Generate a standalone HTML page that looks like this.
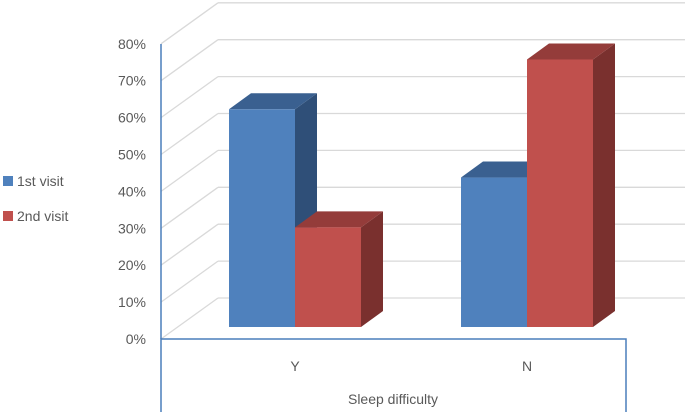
<!DOCTYPE html>
<html><head><meta charset="utf-8"><style>
html,body{margin:0;padding:0;background:#fff;}
svg{display:block;font-family:"Liberation Sans",sans-serif;}
</style></head><body>
<svg id="chart" width="685" height="412">
<g id="grid"></g>
<g id="bars"></g>
<line x1="161" y1="44" x2="161" y2="339" stroke="#4a7ebb" stroke-width="1.5"/>
<rect x="161" y="339" width="465" height="80" fill="none" stroke="#4a7ebb" stroke-width="1.5"/>
<g id="ylabels"></g>
<g id="xlabels"></g>
<text x="393" y="404" text-anchor="middle" font-size="14" fill="#595959">Sleep difficulty</text>
<g>
<g><rect x="3" y="176" width="10" height="10" fill="#4f81bd"/><text x="17" y="186" font-size="14" fill="#595959">1st visit</text></g>
<g><rect x="3" y="211" width="10" height="10" fill="#c0504d"/><text x="17" y="221" font-size="14" fill="#595959">2nd visit</text></g>
</g>
</svg>
<script>
const categories = ["Y","N"];
const series1 = [59, 40.5];
const series2 = [27, 72.5];
const ticks = [0,10,20,30,40,50,60,70,80];
const tickLabels = ["0%","10%","20%","30%","40%","50%","60%","70%","80%"];

const NS="http://www.w3.org/2000/svg";
const unit=36.9/10;
function yFront(v){return 339 - v*unit;}
function yBack(v){return 298 - v*unit;}
function yBar(v){return 327 - v*unit;}
function mk(tag,attrs,parent){const e=document.createElementNS(NS,tag);for(const k in attrs)e.setAttribute(k,attrs[k]);parent.appendChild(e);return e;}
const grid=document.getElementById('grid');
ticks.forEach((t,i)=>{
  const l1=mk('line',{x1:161,y1:yFront(t),x2:218,y2:yBack(t),stroke:'#d9d9d9','stroke-width':1.3},grid);
  
  
  const l2=mk('line',{x1:218,y1:yBack(t),x2:685,y2:yBack(t),stroke:'#d9d9d9','stroke-width':1.3},grid);
  
  
  const tx=mk('text',{x:146,y:yFront(t)+5,'text-anchor':'end','font-size':14,fill:'#595959'},document.getElementById('ylabels'));
  tx.textContent=tickLabels[i];
  
  
});
const bars=document.getElementById('bars');
const catX=[229,461], bw=66, dx=22, dy=16;
function bar(x,v,front,top,side,name){
  const y=yBar(v), b=327;
  const g=mk('g',{},bars);
  
  
  mk('polygon',{points:`${x+bw},${y} ${x+bw+dx},${y-dy} ${x+bw+dx},${b-dy} ${x+bw},${b}`,fill:side},g);
  mk('polygon',{points:`${x},${y} ${x+dx},${y-dy} ${x+bw+dx},${y-dy} ${x+bw},${y}`,fill:top},g);
  mk('rect',{x:x,y:y,width:bw,height:b-y,fill:front},g);
}
categories.forEach((c,i)=>{
  bar(catX[i],series1[i],'#4f81bd','#3a6090','#2f4f78','bar-1st-visit-'+c);
  bar(catX[i]+bw,series2[i],'#c0504d','#943c3a','#7a302e','bar-2nd-visit-'+c);
  const tx=mk('text',{x:catX[i]+bw,y:371,'text-anchor':'middle','font-size':14,fill:'#595959'},document.getElementById('xlabels'));
  tx.textContent=c;
  
  
});
</script>
</body></html>
